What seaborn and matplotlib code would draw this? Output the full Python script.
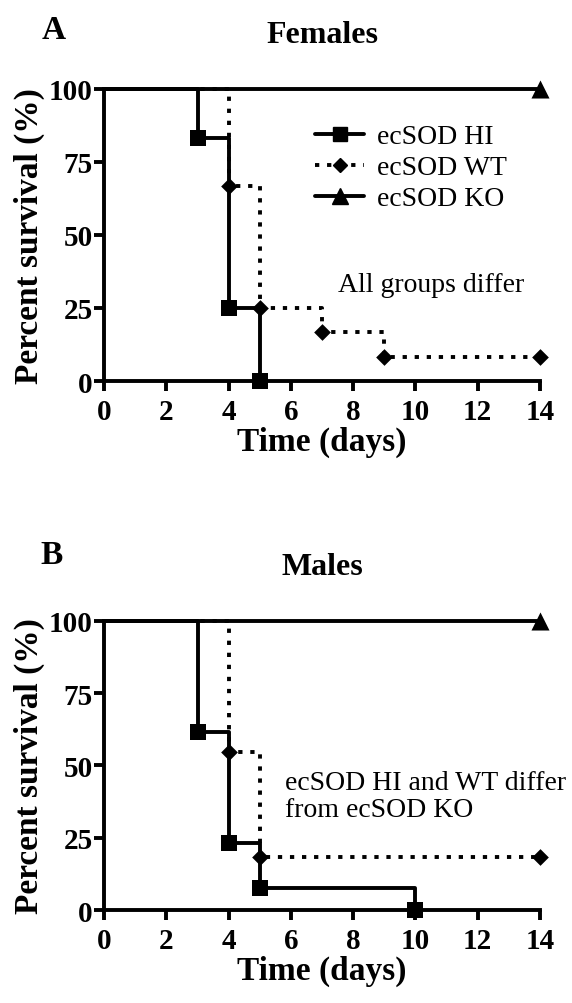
import matplotlib
matplotlib.use('Agg')
import matplotlib.pyplot as plt
import seaborn as sns
import pandas as pd

# Kaplan-Meier step data (time in days, percent survival)
f_hi_t = [0, 3, 4, 5]
f_hi_s = [100, 83.3, 25, 0]
f_wt_t = [0, 4, 5, 7, 9, 14]
f_wt_s = [100, 66.7, 25, 16.7, 8.3, 8.3]
f_ko_t = [0, 14]
f_ko_s = [100, 100]

m_hi_t = [0, 3, 4, 5, 10]
m_hi_s = [100, 61.5, 23.1, 7.7, 0]
m_wt_t = [0, 4, 5, 14]
m_wt_s = [100, 54.5, 18.2, 18.2]
m_ko_t = [0, 14]
m_ko_s = [100, 100]

groups = ['ecSOD HI', 'ecSOD WT', 'ecSOD KO']
x_ticks = [0, 2, 4, 6, 8, 10, 12, 14]
y_ticks = [0, 25, 50, 75, 100]

sns.set_style('ticks')
plt.rcParams['font.family'] = ['Liberation Serif', 'DejaVu Serif']
for k in ['text.color', 'axes.labelcolor', 'xtick.color', 'ytick.color',
          'axes.edgecolor']:
    plt.rcParams[k] = 'black'

LW = 2.8
styles = {
    'ecSOD HI': dict(ls='-', marker='s', ms=12),
    'ecSOD WT': dict(ls=(0, (1.1, 2.0)), marker='D', ms=8.5),
    'ecSOD KO': dict(ls='-', marker='^', ms=13),
}


def panel(ax, data, title, note, note_xy, note_ha):
    for g in groups:
        t, s = data[g]
        df = pd.DataFrame({'t': t, 's': s})
        st = styles[g]
        sns.lineplot(data=df, x='t', y='s', ax=ax, color='black', lw=LW,
                     linestyle=st['ls'], drawstyle='steps-post',
                     estimator=None, sort=False, clip_on=False)
        ev = df.iloc[1:]
        sns.scatterplot(data=ev, x='t', y='s', ax=ax, color='black',
                        marker=st['marker'], s=st['ms'] ** 2, linewidth=0,
                        clip_on=False, zorder=5)
    ax.set_xlim(0, 14)
    ax.set_ylim(0, 100)
    ax.set_xticks(x_ticks)
    ax.set_yticks(y_ticks)
    sns.despine(ax=ax)
    for sp in ['left', 'bottom']:
        ax.spines[sp].set_linewidth(LW)
    ax.tick_params(width=LW, length=7, labelsize=21)
    ax.tick_params(axis='x', pad=5)
    ax.tick_params(axis='y', pad=1)
    for lab in ax.get_xticklabels() + ax.get_yticklabels():
        lab.set_fontweight('bold')
    ax.set_xlabel('Time (days)', fontsize=24, fontweight='bold', labelpad=1)
    ax.set_ylabel('Percent survival (%)', fontsize=24, fontweight='bold',
                  labelpad=3)
    ax.set_title(title, fontsize=23, fontweight='bold', pad=34)
    ax.text(note_xy[0], note_xy[1], note, fontsize=20, ha=note_ha,
            va='center', linespacing=1.1)


fig = plt.figure(figsize=(5.72, 10.04), dpi=100)
ax1 = fig.add_axes([0.182, 0.6195, 0.762, 0.291])
ax2 = fig.add_axes([0.182, 0.0926, 0.762, 0.288])

fem = {'ecSOD HI': (f_hi_t, f_hi_s), 'ecSOD WT': (f_wt_t, f_wt_s),
       'ecSOD KO': (f_ko_t, f_ko_s)}
mal = {'ecSOD HI': (m_hi_t, m_hi_s), 'ecSOD WT': (m_wt_t, m_wt_s),
       'ecSOD KO': (m_ko_t, m_ko_s)}

panel(ax1, fem, 'Females', 'All groups differ', (10.5, 33), 'center')
panel(ax2, mal, 'Males', 'ecSOD HI and WT differ\nfrom ecSOD KO',
      (5.8, 39.5), 'left')

fig.text(0.072, 0.9855, 'A', fontsize=24, fontweight='bold', va='top')
fig.text(0.070, 0.4625, 'B', fontsize=24, fontweight='bold', va='top')

# legend for panel A
handles = []
for g in groups:
    st = styles[g]
    h, = ax1.plot([], [], color='black', lw=LW, linestyle=st['ls'],
                  marker=st['marker'], ms=st['ms'] * 0.85)
    handles.append(h)
ax1.legend(handles, groups, loc='upper left', bbox_to_anchor=(0.485, 0.88),
           frameon=False, fontsize=20, handlelength=1.75, handletextpad=0.45,
           labelspacing=0.2, borderaxespad=0.0, borderpad=0.0)

fig.savefig('out.png', dpi=100)
